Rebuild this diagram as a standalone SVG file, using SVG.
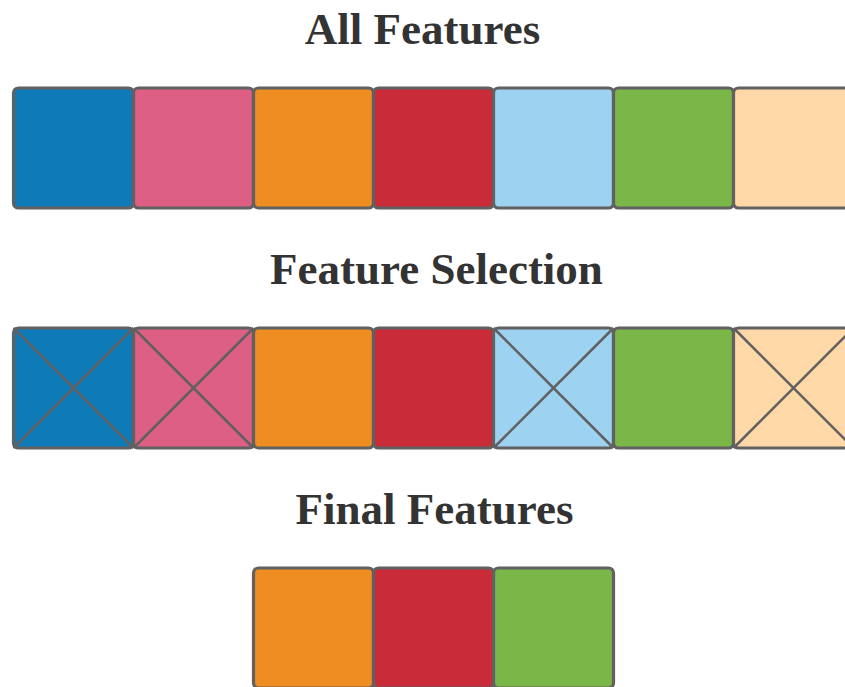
<svg xmlns="http://www.w3.org/2000/svg" width="845" height="687" viewBox="0 0 845 687">
  <style>
    .title { font-family: "Liberation Serif", "Times New Roman", serif; font-weight: bold; font-size: 45px; fill: #333333; text-anchor: middle; }
    .cell { stroke: #616161; stroke-width: 3.2; }
    .x { stroke: #616161; stroke-width: 2.5; fill: none; }
    .c1 { fill: #0f7ab8; }
    .c2 { fill: #de5f84; }
    .c3 { fill: #ef8c22; }
    .c4 { fill: #c92b38; }
    .c5 { fill: #9dd2f1; }
    .c6 { fill: #7bb648; }
    .c7 { fill: #fed8a6; }
  </style>
  <defs>
    <rect id="sq" class="cell" x="0" y="0" width="120" height="120" rx="5"/>
  </defs>
  <rect width="845" height="687" fill="#ffffff"/>

  <text class="title" x="422.5" y="44">All Features</text>
  <text class="title" x="436.5" y="284">Feature Selection</text>
  <text class="title" x="434.5" y="524">Final Features</text>

  <!-- Row 1: all features -->
  <g id="all-features">
    <g id="all-1"><use href="#sq" class="c1" x="13.5" y="88"/></g>
    <g id="all-2"><use href="#sq" class="c2" x="133.5" y="88"/></g>
    <g id="all-3"><use href="#sq" class="c3" x="253.5" y="88"/></g>
    <g id="all-4"><use href="#sq" class="c4" x="373.5" y="88"/></g>
    <g id="all-5"><use href="#sq" class="c5" x="493.5" y="88"/></g>
    <g id="all-6"><use href="#sq" class="c6" x="613.5" y="88"/></g>
    <g id="all-7"><use href="#sq" class="c7" x="733.5" y="88"/></g>
  </g>

  <!-- Row 2: selection, rejected cells crossed out -->
  <g id="selection">
    <g id="sel-1"><use href="#sq" class="c1" x="13.5" y="328"/><path class="x" d="M13.5 328 L133.5 448 M133.5 328 L13.5 448"/></g>
    <g id="sel-2"><use href="#sq" class="c2" x="133.5" y="328"/><path class="x" d="M133.5 328 L253.5 448 M253.5 328 L133.5 448"/></g>
    <g id="sel-3"><use href="#sq" class="c3" x="253.5" y="328"/></g>
    <g id="sel-4"><use href="#sq" class="c4" x="373.5" y="328"/></g>
    <g id="sel-5"><use href="#sq" class="c5" x="493.5" y="328"/><path class="x" d="M493.5 328 L613.5 448 M613.5 328 L493.5 448"/></g>
    <g id="sel-6"><use href="#sq" class="c6" x="613.5" y="328"/></g>
    <g id="sel-7"><use href="#sq" class="c7" x="733.5" y="328"/><path class="x" d="M733.5 328 L853.5 448 M853.5 328 L733.5 448"/></g>
  </g>

  <!-- Row 3: kept features -->
  <g id="final-features">
    <g id="final-1"><use href="#sq" class="c3" x="253.5" y="568"/></g>
    <g id="final-2"><use href="#sq" class="c4" x="373.5" y="568"/></g>
    <g id="final-3"><use href="#sq" class="c6" x="493.5" y="568"/></g>
  </g>

  <g id="connectors"/>
</svg>
